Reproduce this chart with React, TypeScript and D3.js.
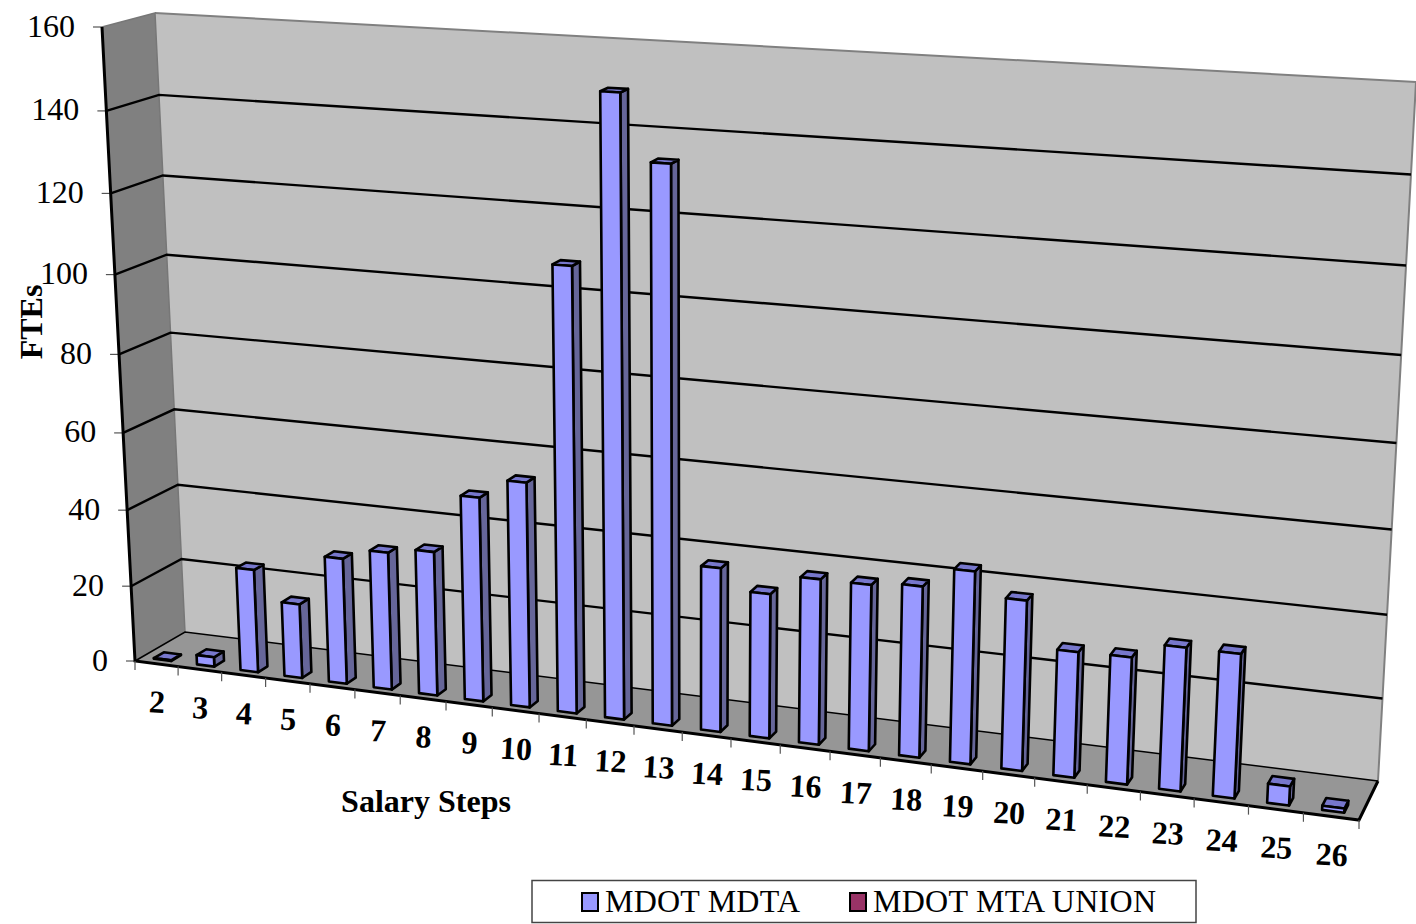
import React from "react";
import * as d3 from "d3";

const categories = ["2","3","4","5","6","7","8","9","10","11","12","13","14","15","16","17","18","19","20","21","22","23","24","25","26"];
const mdta = [0.2,2.5,27,19.4,32.6,35.5,37,52,57,110.5,151.5,136,41,36,41,41,42,47,41.4,30.5,30.7,34.5,34.5,4.6,1];
const yTicks = [0,20,40,60,80,100,120,140,160];
const legendNames = ["MDOT MDTA","MDOT MTA UNION"];

type P = [number, number];
const FL: P = [135, 661], FR: P = [1359, 820], BL: P = [185, 632], BR: P = [1378, 781];
const TFL: P = [102, 27], TFR: P = [1399, 103], TBL: P = [155, 13], TBR: P = [1416, 82];

const mix = (a: P, b: P, t: number): P => [a[0] + (b[0] - a[0]) * t, a[1] + (b[1] - a[1]) * t];
// perspective foreshortening along the category axis and the value axis
const warpU = (u: number) => (0.876 * u) / (1 - 0.124 * u);
const warpV = (t: number) => (0.9365 * t) / (1 - 0.0635 * t);
const uScale = d3.scaleLinear().domain([0, categories.length]).range([0, 1]);
const vScale = d3.scaleLinear().domain([0, 160]).range([0, 1]);

const project = (cat: number, depth: number, value: number): P => {
  const u = warpU(uScale(cat));
  const floor = mix(mix(FL, FR, u), mix(BL, BR, u), depth);
  const top = mix(mix(TFL, TFR, u), mix(TBL, TBR, u), depth);
  return mix(floor, top, warpV(vScale(value)));
};
const poly = (pts: P[]) => d3.line()(pts) + "Z";
const serif = "'Liberation Serif','Times New Roman',serif";
const D0 = 0.13, D1 = 0.33, HALF = 0.2, CENTER = 0.49;

export default function App() {
  const wall = (pts: P[], fill: string) => <path d={poly(pts)} fill={fill} stroke="none" />;
  return (
    <svg width={1416} height={924} style={{ position: "absolute", left: 0, top: 0, display: "block", background: "#fff" }} fontFamily={serif}>
      {wall([project(0,1,0), project(25,1,0), project(25,1,160), project(0,1,160)], "#c0c0c0")}
      {wall([project(0,0,0), project(0,1,0), project(0,1,160), project(0,0,160)], "#808080")}
      {wall([project(0,0,0), project(25,0,0), project(25,1,0), project(0,1,0)], "#969696")}
      <path d={d3.line()([project(0,1,160), project(25,1,160), project(25,1,0)])!} fill="none" stroke="#808080" strokeWidth={2} />
      <path d={d3.line()([project(0,0,160), project(0,1,160), project(0,1,0)])!} fill="none" stroke="#777" strokeWidth={1.5} />
      {yTicks.map((v) => {
        const a = project(0, 0, v), b = project(0, 1, v), c = project(25, 1, v);
        return (
          <g key={v}>
            {v < 160 && <path d={d3.line()([a, b, c])!} fill="none" stroke="#000" strokeWidth={v === 0 ? 1.5 : 2.4} />}
            <line x1={a[0] - 9} x2={a[0]} y1={a[1]} y2={a[1]} stroke="#555" strokeWidth={1.2} />
            <text x={a[0] - 27} y={a[1] + 9.5} textAnchor="end" fontSize={32}>{v}</text>
          </g>
        );
      })}
      <path d={d3.line()([project(0,0,160), project(0,0,0), project(25,0,0), project(25,1,0)])!} fill="none" stroke="#000" strokeWidth={3} />
      {categories.map((c, i) => {
        const p = project(i, 0, 0);
        const q = project(i + 0.5, 0, 0);
        return (
          <g key={c}>
            <line x1={p[0]} x2={p[0]} y1={p[1]} y2={p[1] + 9} stroke="#555" strokeWidth={1.2} />
            <text transform={`translate(${q[0]},${q[1] + 49}) rotate(3)`} textAnchor="middle" fontSize={32} fontWeight="bold">{c}</text>
          </g>
        );
      })}
      <line x1={project(25,0,0)[0]} x2={project(25,0,0)[0]} y1={project(25,0,0)[1]} y2={project(25,0,0)[1] + 9} stroke="#555" strokeWidth={1.2} />
      {mdta.map((v, i) => {
        const l = i + CENTER - HALF, r = i + CENTER + HALF;
        const fbl = project(l, D0, 0), fbr = project(r, D0, 0), ftl = project(l, D0, v), ftr = project(r, D0, v);
        const bbr = project(r, D1, 0), btr = project(r, D1, v), btl = project(l, D1, v);
        const common = { stroke: "#000", strokeWidth: 2.6, strokeLinejoin: "round" as const };
        return (
          <g key={i}>
            <path d={poly([fbr, bbr, btr, ftr])} fill="#666699" {...common} />
            <path d={poly([ftl, ftr, btr, btl])} fill="#7777cc" {...common} />
            <path d={poly([fbl, fbr, ftr, ftl])} fill="#9999ff" {...common} />
          </g>
        );
      })}
      <text x={426} y={812} textAnchor="middle" fontSize={32} fontWeight="bold">Salary Steps</text>
      <text transform="translate(42,322) rotate(-90)" textAnchor="middle" fontSize={32} fontWeight="bold">FTEs</text>
      <rect x={532} y={880.5} width={664} height={42} fill="#fff" stroke="#444" strokeWidth={1.5} />
      {legendNames.map((n, i) => {
        const x = i === 0 ? 582 : 850;
        return (
          <g key={n}>
            <rect x={x} y={893} width={16} height={18} fill={i === 0 ? "#9999ff" : "#993366"} stroke="#000" strokeWidth={2} />
            <text x={x + 23} y={912} fontSize={32} textLength={i === 0 ? 195 : 283}>{n}</text>
          </g>
        );
      })}
    </svg>
  );
}
